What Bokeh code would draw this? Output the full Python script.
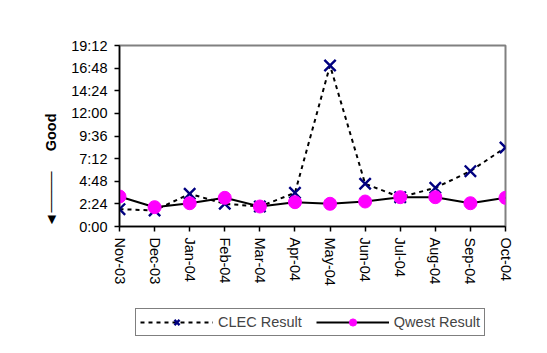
from bokeh.plotting import figure
from bokeh.layouts import column
from bokeh.models import Range1d, FixedTicker, Legend, LegendItem, ColumnDataSource
from bokeh.embed import file_html
from bokeh.resources import INLINE

# ---- data (hours) ----
months = ["Nov-03", "Dec-03", "Jan-04", "Feb-04", "Mar-04", "Apr-04",
          "May-04", "Jun-04", "Jul-04", "Aug-04", "Sep-04", "Oct-04"]
clec_result = [1.84, 1.70, 3.47, 2.41, 2.12, 3.57, 17.08, 4.53, 3.11, 4.10, 5.87, 8.38]
qwest_result = [3.18, 2.05, 2.47, 3.04, 2.12, 2.58, 2.41, 2.65, 3.11, 3.11, 2.47, 3.04]
y_ticks = [0, 2.4, 4.8, 7.2, 9.6, 12.0, 14.4, 16.8, 19.2]
y_tick_labels = ["0:00", "2:24", "4:48", "7:12", "9:36", "12:00", "14:24", "16:48", "19:12"]

FONT = "Liberation Sans"
FS = "14.5px"
W, H_MAIN, H_LEG = 531, 300, 37
NB = "\u00a0"

x = list(range(len(months)))
src = ColumnDataSource(dict(x=x, clec=clec_result, qwest=qwest_result))

# ---------- main chart ----------
p = figure(width=W, height=H_MAIN, output_backend="svg", toolbar_location=None,
           x_range=Range1d(0, len(months) - 1), y_range=Range1d(y_ticks[0], y_ticks[-1]),
           min_border_left=119, min_border_right=W - 505, min_border_top=45,
           min_border_bottom=H_MAIN - 226)
p.background_fill_color = "white"
p.border_fill_color = "white"
p.outline_line_color = "#808080"
p.outline_line_width = 2
p.xgrid.visible = False
p.ygrid.visible = False

p.xaxis.ticker = FixedTicker(ticks=x)
p.xaxis.major_label_overrides = {i: m for i, m in enumerate(months)}
p.xaxis.major_label_orientation = "vertical"
p.yaxis.ticker = FixedTicker(ticks=y_ticks)
p.yaxis.major_label_overrides = {t: l for t, l in zip(y_ticks, y_tick_labels)}
for ax in (p.xaxis, p.yaxis):
    ax.axis_line_color = "black"
    ax.axis_line_width = 1.5
    ax.major_tick_line_color = "black"
    ax.major_tick_line_width = 1.5
    ax.major_tick_out = 5
    ax.major_tick_in = 0
    ax.minor_tick_line_color = None
    ax.major_label_text_font = FONT
    ax.major_label_text_font_size = FS
    ax.major_label_text_color = "black"
p.yaxis.major_label_standoff = 7
p.xaxis.major_label_standoff = 6

# "Good" with its downward arrow, as the (rotated) y-axis title
p.yaxis.axis_label = "\u25c4" + "\u2500" * 4 + NB * 5 + "Good" + NB * 17
p.yaxis.axis_label_text_font = FONT
p.yaxis.axis_label_text_font_size = FS
p.yaxis.axis_label_text_font_style = "bold"
p.yaxis.axis_label_text_color = "black"
p.yaxis.axis_label_standoff = 9

clec_line = p.line("x", "clec", source=src, line_color="black", line_width=2, line_dash="4 4")
clec_pts = p.scatter("x", "clec", source=src, marker="x", size=16, line_color="#000080", line_width=2.4)
q_line = p.line("x", "qwest", source=src, line_color="black", line_width=2)
q_pts = p.scatter("x", "qwest", source=src, marker="circle", size=13, fill_color="#ff00ff",
                  line_color="#ff00ff")

# ---------- legend strip (same styles, shown under the chart) ----------
# its frame is aligned with the chart's frame by the column layout
lg = figure(width=W, height=H_LEG, output_backend="svg", toolbar_location=None,
            x_range=Range1d(0, 1), y_range=Range1d(0, 1),
            x_axis_type=None, y_axis_type=None, min_border=0)
lg.outline_line_color = None
lg.grid.visible = False
lg.background_fill_color = "white"
lg.border_fill_color = "white"
off = dict(x=[-5, -4], y=[-5, -4])  # off-screen: only the legend swatches show
l1 = lg.line("x", "y", source=ColumnDataSource(off), line_color="black", line_width=2, line_dash="4 4")
s1 = lg.scatter("x", "y", source=ColumnDataSource(off), marker="x", size=16,
                line_color="#000080", line_width=2.4)
l2 = lg.line("x", "y", source=ColumnDataSource(off), line_color="black", line_width=2)
s2 = lg.scatter("x", "y", source=ColumnDataSource(off), marker="circle", size=13,
                fill_color="#ff00ff", line_color="#ff00ff")

legend = Legend(items=[LegendItem(label="CLEC Result", renderers=[l1, s1]),
                       LegendItem(label="Qwest Result", renderers=[l2, s2])],
                orientation="horizontal", location=(16, 1),
                glyph_width=73, glyph_height=18, label_height=18, label_standoff=5,
                spacing=14, padding=4, margin=0,
                label_text_font=FONT, label_text_font_size=FS,
                border_line_color="black", border_line_width=1,
                background_fill_color="white", background_fill_alpha=1)
lg.add_layout(legend, "center")

layout = column(p, lg, spacing=0)
open("out.html", "w").write(file_html(layout, INLINE))
